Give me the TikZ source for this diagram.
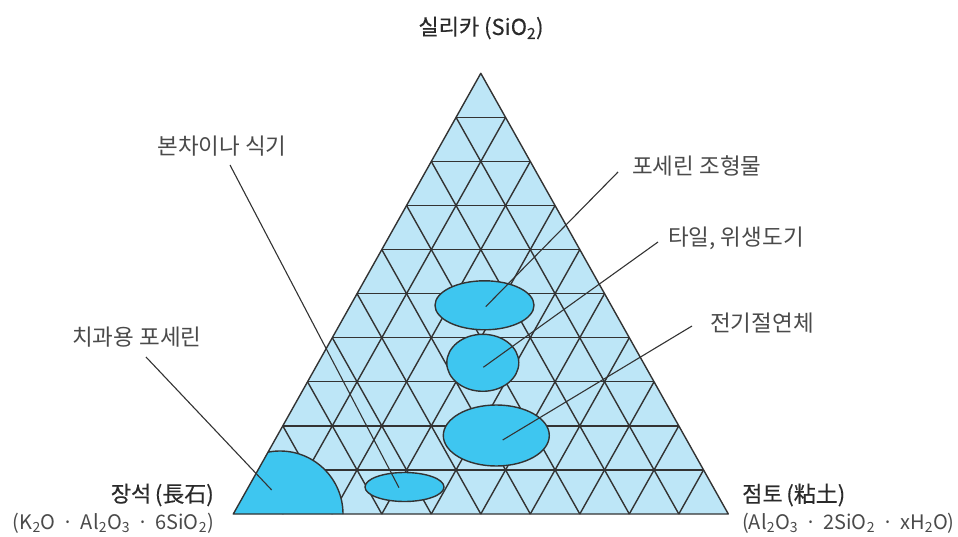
\documentclass[tikz,border=0pt]{standalone}
\usepackage{fontspec}
\setmainfont{Noto Sans CJK KR}
\newfontfamily\headfont{Noto Sans CJK KR}[FakeBold=0.35]
\usetikzlibrary{shapes.geometric,calc}
\definecolor{trifill}{HTML}{BDE6F7}
\definecolor{blobfill}{HTML}{3EC6F0}
\definecolor{lncol}{HTML}{333333}
\definecolor{txtcol}{HTML}{4A4A4A}
\definecolor{headcol}{HTML}{2A2A2A}
\newcommand\dotsep{\hspace{7pt}·\hspace{7pt}}
\begin{document}
\begin{tikzpicture}[x=1pt,y=-1pt,
  gridline/.style={draw=lncol,line width=1.4pt,line join=round},
  blob/.style={ellipse,draw=lncol,line width=1.4pt,fill=blobfill,inner sep=0pt},
  lead/.style={draw=lncol,line width=1.1pt},
  lab/.style={font=\fontsize{22.5}{24}\selectfont,text=txtcol,inner sep=0pt},
  head/.style={font=\headfont\fontsize{22}{24}\selectfont,text=headcol,inner sep=0pt},
  formula/.style={font=\fontsize{20}{22}\selectfont,text=txtcol,inner sep=0pt}]
\useasboundingbox (0,0) rectangle (958,537);
\coordinate (A) at (233.3,514);
\coordinate (B) at (728.3,514);
\coordinate (C) at (480.8,73.3);
\fill[trifill] (A)--(B)--(C)--cycle;
\foreach \i in {1,...,9}{
  \pgfmathsetmacro\tt{\i/10}
  \pgfmathsetmacro\uu{1-\i/10}
  \draw[gridline] ($(A)!\tt!(C)$) -- ($(B)!\tt!(C)$);
  \draw[gridline] ($(A)!\tt!(B)$) -- ($(B)!\uu!(C)$);
  \draw[gridline] ($(A)!\tt!(B)$) -- ($(A)!\tt!(C)$);
}
% feldspar region
\begin{scope}
  \clip (A)--(B)--(C)--cycle;
  \filldraw[fill=blobfill,draw=lncol,line width=1.4pt] (280,514) circle (63);
\end{scope}
\draw[gridline] (A)--(B)--(C)--cycle;
% ellipses
\node[blob,minimum width=99pt,minimum height=49pt] (e1) at (484.5,305.3) {};
\node[blob,minimum width=72pt,minimum height=57pt] (e2) at (482.8,362.8) {};
\node[blob,minimum width=106pt,minimum height=61pt] (e3) at (496.3,435.5) {};
\node[blob,minimum width=79pt,minimum height=29pt] (e4) at (404.5,487) {};
\coordinate (f1) at (271.7,490);
% labels
\node[head,anchor=center] (tSi) at (481,28) {실리카 (SiO\textsubscript{2})};
\node[head,anchor=east] (tFs) at (214,495) {장석\,(長石)};
\node[formula,anchor=east] (tFsF) at (214,523) {(K\textsubscript{2}O\dotsep Al\textsubscript{2}O\textsubscript{3}\dotsep 6SiO\textsubscript{2})};
\node[head,anchor=west] (tCl) at (742,495) {점토\,(粘土)};
\node[formula,anchor=west] (tClF) at (742,523) {(Al\textsubscript{2}O\textsubscript{3}\dotsep 2SiO\textsubscript{2}\dotsep xH\textsubscript{2}O)};
\node[lab,anchor=center] (tBone) at (222,146) {본차이나 식기};
\node[lab,anchor=west] (tPor) at (632,166) {포세린 조형물};
\node[lab,anchor=west] (tTile) at (668,238) {타일, 위생도기};
\node[lab,anchor=west] (tElec) at (710,323) {전기절연체};
\node[lab,anchor=west] (tDent) at (72,337) {치과용 포세린};
% leader ends
\coordinate (c1) at (618,172);
\coordinate (c2) at (658,242);
\coordinate (c3) at (692,326);
\coordinate (c4) at (230,165);
\coordinate (c5) at (146,357);
\coordinate (i1) at (485.7,306.7);
\coordinate (i2) at (483.3,367.3);
\coordinate (i3) at (502.7,440);
\coordinate (i4) at (399,487.7);
\draw[lead] (i1) -- (c1);
\draw[lead] (i2) -- (c2);
\draw[lead] (i3) -- (c3);
\draw[lead] (i4) -- (c4);
\draw[lead] (f1) -- (c5);
\end{tikzpicture}
\end{document}
